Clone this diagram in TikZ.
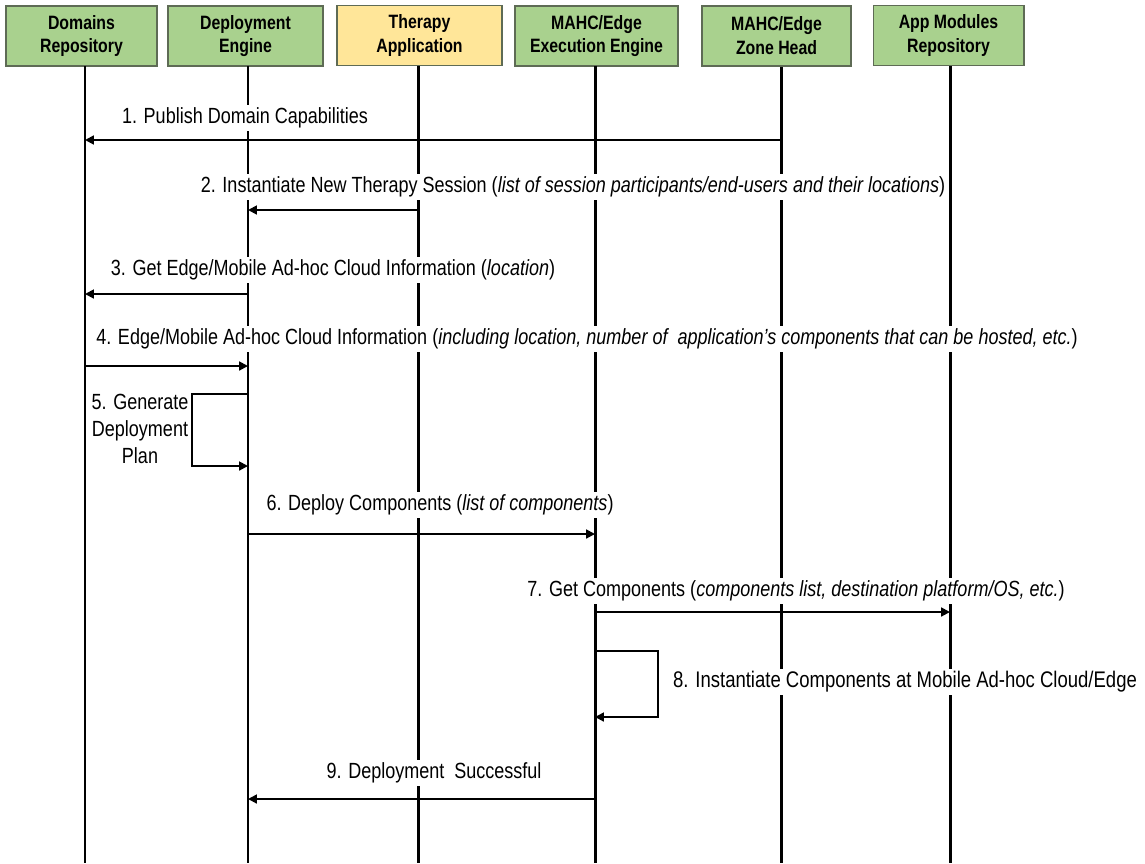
\documentclass[tikz,border=0pt]{standalone}
\usepackage{fontspec}
\setmainfont[FakeStretch=0.82]{Liberation Sans}
\usetikzlibrary{arrows.meta}
\definecolor{boxgreen}{HTML}{A9D18E}
\definecolor{boxyellow}{HTML}{FFE699}
\definecolor{boxedge}{HTML}{5E6B55}
\begin{document}
\begin{tikzpicture}[x=0.02cm,y=-0.02cm,
  actor/.style={draw=boxedge,line width=0.6pt,minimum height=1.2cm,inner sep=1pt,
    align=center,font=\fontsize{11}{13.6}\selectfont\bfseries},
  lifeline/.style={line width=1.7pt},
  msg/.style={line width=1.1pt,-{Triangle[length=5pt,width=5pt]}},
  msglabel/.style={fill=white,inner xsep=1pt,inner ysep=1.5pt,font=\fontsize{12.5}{15}\selectfont}]
\useasboundingbox (0,0) rectangle (1145,863);

% participants
\node[actor,fill=boxgreen,minimum width=3.02cm] (dom) at (81.5,36) {Domains\\Repository};
\node[actor,fill=boxgreen,minimum width=3.1cm] (dep) at (245.5,36) {Deployment\\Engine};
\node[actor,fill=boxyellow,minimum width=3.3cm] (app) at (419.5,35.5) {Therapy\\Application};
\node[actor,fill=boxgreen,minimum width=3.26cm] (exe) at (596.5,36) {MAHC/Edge\\Execution Engine};
\node[actor,fill=boxgreen,minimum width=2.98cm] (zone) at (776.5,36) {MAHC/Edge\\Zone Head};
\node[actor,fill=boxgreen,minimum width=3.02cm] (mod) at (948.5,35.5) {App Modules\\Repository};

% lifeline ends
\coordinate (domE) at (85,863);
\coordinate (depE) at (248,863);
\coordinate (appE) at (418,863);
\coordinate (exeE) at (595,863);
\coordinate (zoneE) at (781,863);
\coordinate (modE) at (950,863);

\draw[lifeline] (85,66) -- (domE);
\draw[lifeline] (248,66) -- (depE);
\draw[lifeline] (418,66) -- (appE);
\draw[lifeline] (595,66) -- (exeE);
\draw[lifeline] (781,67) -- (zoneE);
\draw[lifeline] (950,66) -- (modE);

% message end points
\coordinate (m1a) at (781,140); \coordinate (m1b) at (85,140);
\coordinate (m2a) at (418,210); \coordinate (m2b) at (248,210);
\coordinate (m3a) at (248,294); \coordinate (m3b) at (85,294);
\coordinate (m4a) at (85,366);  \coordinate (m4b) at (248,366);
\coordinate (m5a) at (248,394); \coordinate (m5b) at (248,466);
\coordinate (m6a) at (248,534); \coordinate (m6b) at (595,534);
\coordinate (m7a) at (595,612); \coordinate (m7b) at (950,612);
\coordinate (m8a) at (595,651); \coordinate (m8b) at (595,717);
\coordinate (m9a) at (595,799); \coordinate (m9b) at (248,799);

% messages
\draw[msg] (m1a) -- (m1b);
\draw[msg] (m2a) -- (m2b);
\draw[msg] (m3a) -- (m3b);
\draw[msg] (m4a) -- (m4b);
\draw[msg] (m5a) -- ++(-56,0) |- (m5b);
\draw[msg] (m6a) -- (m6b);
\draw[msg] (m7a) -- (m7b);
\draw[msg] (m8a) -- ++(63,0) |- (m8b);
\draw[msg] (m9a) -- (m9b);

% message labels
\node[msglabel] (l1) at (245,118) {1. Publish Domain Capabilities};
\node[msglabel] (l2) at (573,187) {2. Instantiate New Therapy Session (\textit{list of session participants/end-users and their locations})};
\node[msglabel] (l3) at (333,270) {3. Get Edge/Mobile Ad-hoc Cloud Information (\textit{location})};
\node[msglabel] (l4) at (587,339) {4. Edge/Mobile Ad-hoc Cloud Information (\textit{including location, number of\ \ application’s components that can be hosted, etc.})};
\node[msglabel,align=center,font=\fontsize{12.5}{15.5}\selectfont] (l5) at (140,429) {5. Generate\\Deployment\\Plan};
\node[msglabel] (l6) at (440,505) {6. Deploy Components (\textit{list of components})};
\node[msglabel] (l7) at (796,591) {7. Get Components (\textit{components list, destination platform/OS, etc.})};
\node[msglabel,anchor=west,font=\fontsize{12.85}{15}\selectfont] (l8) at (671,682) {8. Instantiate Components at Mobile Ad-hoc Cloud/Edge};
\node[msglabel] (l9) at (434,773) {9. Deployment\ \ Successful};
\end{tikzpicture}
\end{document}
